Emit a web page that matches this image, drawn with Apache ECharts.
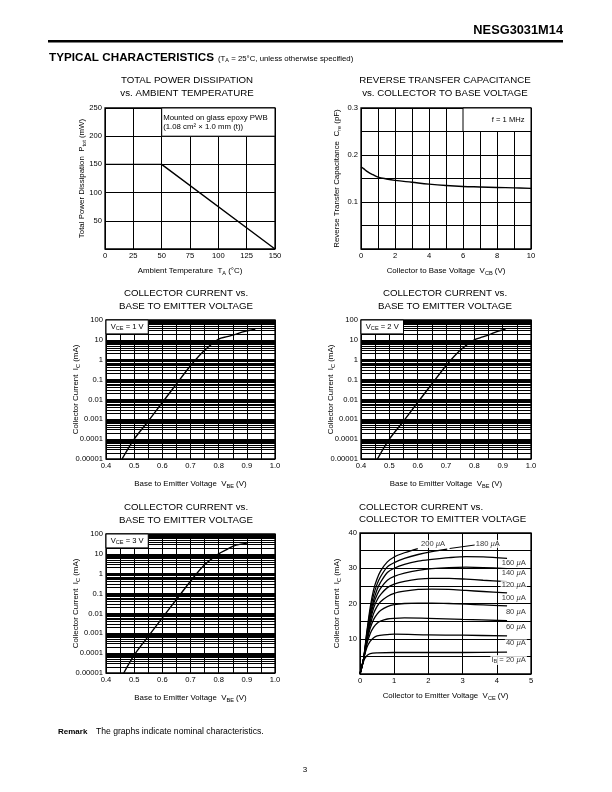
<!DOCTYPE html>
<html><head><meta charset="utf-8">
<script src="https://cdn.jsdelivr.net/npm/echarts@6/dist/echarts.min.js"></script>
<style>html,body{margin:0;padding:0;background:#fff}#c{width:612px;height:792px}</style>
</head><body><div id="c"></div><script>
const FONT = '"Liberation Sans", Arial, Helvetica, sans-serif';

// ---- Chart 1: total power dissipation vs ambient temperature
const pdTemp = [0, 50, 150];
const pdPower = [150, 150, 0];

// ---- Chart 2: reverse transfer capacitance vs VCB
const creVcb = [0, 0.15, 0.4, 0.7, 1, 1.5, 2, 3, 4, 5, 6, 7, 8, 9, 10];
const creVal = [0.175, 0.171, 0.164, 0.158, 0.153, 0.149, 0.146, 0.142, 0.138, 0.135, 0.133, 0.132, 0.131, 0.130, 0.129];

// ---- Charts 3-5: IC vs VBE
const vbe1 = [0.457, 0.5, 0.55, 0.6, 0.65, 0.7, 0.75, 0.8, 0.83, 0.86, 0.89, 0.93];
const ic1  = [1e-5, 1e-4, 8e-4, 7e-3, 6e-2, 0.5, 3, 11, 14.5, 19, 26, 34];
const vbe2 = [0.458, 0.5, 0.55, 0.6, 0.65, 0.7, 0.75, 0.8, 0.83, 0.86, 0.88, 0.91];
const ic2  = [1e-5, 1e-4, 8e-4, 7e-3, 6e-2, 0.5, 3, 10, 14, 20, 26, 34];
const vbe3 = [0.463, 0.5, 0.55, 0.6, 0.65, 0.7, 0.75, 0.8, 0.83, 0.85, 0.875, 0.9];
const ic3  = [1e-5, 8e-5, 7e-4, 6e-3, 5e-2, 0.42, 2.8, 10, 17, 24, 30, 33];
const vceLabels = ['1', '2', '3'];
const logTickLabels = ['0.00001', '0.0001', '0.001', '0.01', '0.1', '1', '10', '100'];
const logDecades = [-5, -4, -3, -2, -1, 0, 1];
const logMinorSteps = [2, 3, 4, 5, 6, 7, 8, 9];

// ---- Chart 6: IC vs VCE, parameter IB
const ibNames = ['200', '180', '160', '140', '120', '100', '80', '60', '40', '20'];
const ib200 = [[0,0],[0.1,4],[0.2,12],[0.3,19],[0.4,24],[0.5,27],[0.6,29.2],[0.8,31.8],[1.0,33.2],[1.3,34.4],[1.69,35.6]];
const ib180 = [[0,0],[0.1,4],[0.2,11.5],[0.3,18],[0.4,22.5],[0.5,25.5],[0.6,27.6],[0.8,30.4],[1.0,31.6],[1.3,32.8],[1.7,33.9],[2.1,34.7],[2.55,35.4]];
const ib160 = [[0,0],[0.1,4],[0.2,11],[0.3,17],[0.4,21],[0.5,24],[0.6,26],[0.8,28.8],[1.0,30],[1.3,31.1],[1.7,32],[2.1,32.5],[2.6,33],[3.1,33.3],[3.6,33.2],[4.3,32.8]];
const ib140 = [[0,0],[0.1,4],[0.2,10.5],[0.3,16],[0.4,20],[0.5,22.5],[0.6,24.3],[0.8,26.6],[1.0,27.7],[1.3,28.6],[1.7,29.4],[2.1,29.9],[2.6,30.2],[3.1,30.3],[3.6,30.2],[4.3,29.9]];
const ib120 = [[0,0],[0.1,4],[0.2,10],[0.3,15],[0.4,18.8],[0.5,21],[0.6,22.5],[0.8,24.5],[1.0,25.5],[1.3,26.3],[1.7,26.9],[2.1,27.1],[2.6,27.1],[3.1,26.9],[3.6,26.6],[4.3,26.2]];
const ib100 = [[0,0],[0.1,4],[0.2,9.5],[0.3,14],[0.4,17.2],[0.5,19.2],[0.6,20.5],[0.8,22],[1.0,22.9],[1.3,23.5],[1.7,24],[2.1,24.1],[2.6,24],[3.1,23.7],[3.6,23.4],[4.3,23]];
const ib80  = [[0,0],[0.1,4],[0.2,9],[0.3,13],[0.4,15.5],[0.5,17],[0.6,18],[0.8,19.1],[1.0,19.7],[1.3,20],[1.7,20.1],[2.1,20.1],[2.6,20],[3.1,19.8],[3.6,19.6],[4.3,19.3]];
const ib60  = [[0,0],[0.1,4],[0.2,8.5],[0.3,11.5],[0.4,13.3],[0.5,14.4],[0.6,15],[0.8,15.6],[1.0,15.8],[1.3,15.9],[2.0,15.8],[3.0,15.5],[4.3,15.1]];
const ib40  = [[0,0],[0.1,4],[0.2,7.5],[0.3,9.3],[0.4,10.3],[0.5,10.8],[0.7,11.1],[1.0,11.3],[2.0,11.1],[3.0,11],[4.3,10.8]];
const ib20  = [[0,0],[0.1,3.5],[0.2,5.2],[0.3,5.8],[0.5,6],[1.0,6.1],[2.0,6.1],[3.0,6.1],[4.3,6.2]];
const ibCurves = [ib200, ib180, ib160, ib140, ib120, ib100, ib80, ib60, ib40, ib20];
const ibLabelAnchor = [[2.52,36.9],[4.12,36.9],[4.88,31.5],[4.88,28.6],[4.88,25.4],[4.88,21.5],[4.88,17.7],[4.88,13.3],[4.88,8.7],[4.88,4.0]];

// ---------- helpers ----------
const black = '#000';
const subRich = {
  s: { fontSize: 5.6, fontFamily: FONT, color: black, padding: [4, 0, 0, 0] },
  mu: { fontSize: 7.6, fontFamily: FONT, color: black, fontStyle: 'italic' }
};
function axisBase(extra) {
  return Object.assign({
    axisLine: { show: false },
    axisTick: { show: false },
    splitLine: { show: true, lineStyle: { color: black, width: 1 } },
    axisLabel: { color: black, fontSize: 7.6, fontFamily: FONT, margin: 3 },
    nameLocation: 'middle',
    nameMoveOverlap: false,
    nameTextStyle: { color: black, fontSize: 7.9, fontFamily: FONT, rich: subRich }
  }, extra);
}

const grids = [
  { left: 105, top: 108, width: 170, height: 141 },
  { left: 361, top: 108, width: 170, height: 141 },
  { left: 106, top: 320, width: 169, height: 139 },
  { left: 361, top: 320, width: 170, height: 139 },
  { left: 106, top: 534, width: 169, height: 139 },
  { left: 360, top: 533, width: 171, height: 141 }
].map(g => Object.assign({ show: true, borderColor: black, borderWidth: 1.3, backgroundColor: 'transparent' }, g));

const xAxes = [], yAxes = [], series = [];
const lab = (fmt) => ({ color: black, fontSize: 7.6, fontFamily: FONT, margin: 3, formatter: fmt });

// Chart 1
xAxes.push(axisBase({ gridIndex: 0, type: 'value', min: 0, max: 150, interval: 25,
  name: 'Ambient Temperature  T{s|A} (°C)', nameGap: 17 }));
yAxes.push(axisBase({ gridIndex: 0, type: 'value', min: 0, max: 250, interval: 50,
  name: 'Total Power Dissipation  P{s|tot} (mW)', nameGap: 18,
  axisLabel: lab(v => v === 0 ? '' : String(v)) }));
series.push({ type: 'line', xAxisIndex: 0, yAxisIndex: 0, z: 10, symbol: 'none',
  data: pdTemp.map((t, i) => [t, pdPower[i]]), lineStyle: { color: black, width: 1.4 },
  markArea: { silent: true, z: 4, itemStyle: { color: '#fff', borderColor: black, borderWidth: 1 },
    label: { show: true, position: 'insideTopLeft', distance: 0, padding: [6, 0, 0, 2], color: black, fontSize: 7.8, fontFamily: FONT, lineHeight: 9,
      formatter: 'Mounted on glass epoxy PWB\n(1.08 cm² × 1.0 mm (t))' },
    data: [[{ coord: [50, 250] }, { coord: [150, 200] }]] } });

// Chart 2
xAxes.push(axisBase({ gridIndex: 1, type: 'value', min: 0, max: 10, interval: 1,
  name: 'Collector to Base Voltage  V{s|CB} (V)', nameGap: 17,
  axisLabel: lab(v => (Math.round(v) % 2 === 0 ? String(Math.round(v)) : '')) }));
yAxes.push(axisBase({ gridIndex: 1, type: 'value', min: 0, max: 0.3, interval: 0.05,
  name: 'Reverse Transfer Capacitance  C{s|re} (pF)', nameGap: 19,
  axisLabel: lab(v => { const k = Math.round(v * 100); return (k > 0 && k % 10 === 0) ? (k / 100).toFixed(1) : ''; }) }));
series.push({ type: 'line', xAxisIndex: 1, yAxisIndex: 1, z: 10, symbol: 'none', smooth: 0.4,
  data: creVcb.map((v, i) => [v, creVal[i]]), lineStyle: { color: black, width: 1.4 },
  markArea: { silent: true, z: 4, itemStyle: { color: '#fff', borderColor: black, borderWidth: 1 },
    label: { show: true, position: 'insideRight', distance: 7, color: black, fontSize: 7.6, fontFamily: FONT, formatter: 'f = 1 MHz' },
    data: [[{ coord: [6, 0.3] }, { coord: [10, 0.25] }]] } });

// Charts 3-5 (log)
const minorVals = [];
logDecades.forEach(d => logMinorSteps.forEach(m => minorVals.push(m * Math.pow(10, d))));
const vbeSets = [[vbe1, ic1], [vbe2, ic2], [vbe3, ic3]];
vbeSets.forEach((set, j) => {
  const gi = 2 + j;
  xAxes.push(axisBase({ gridIndex: gi, type: 'value', min: 0.4, max: 1.0, interval: 0.05,
    name: 'Base to Emitter Voltage  V{s|BE} (V)', nameGap: 20,
    axisLabel: lab(v => { const k = Math.round(v * 100); return k % 10 === 0 ? (k / 100).toFixed(1) : ''; }) }));
  yAxes.push(axisBase({ gridIndex: gi, type: 'log', logBase: 10, min: 1e-5, max: 100, splitNumber: 7,
    name: 'Collector Current  I{s|C} (mA)', nameGap: 25,
    axisLabel: lab(v => logTickLabels[Math.round(Math.log10(v)) + 5] || '') }));
  series.push({ type: 'line', xAxisIndex: gi, yAxisIndex: gi, z: 10, symbol: 'none', smooth: 0.3,
    data: set[0].map((v, i) => [v, set[1][i]]), lineStyle: { color: black, width: 1.4 },
    markLine: { silent: true, z: 3, symbol: 'none', precision: 12, animation: false, label: { show: false },
      lineStyle: { color: black, width: 1, type: 'solid' },
      data: minorVals.map(y => ({ yAxis: y })) },
    markArea: { silent: true, z: 4, itemStyle: { color: '#fff', borderColor: black, borderWidth: 1 },
      label: { show: true, position: 'inside', color: black, fontSize: 7.6, fontFamily: FONT, rich: subRich,
        formatter: 'V{s|CE} = ' + vceLabels[j] + ' V' },
      data: [[{ coord: [0.4, 100] }, { coord: [0.55, 20] }]] } });
});

// Chart 6
xAxes.push(axisBase({ gridIndex: 5, type: 'value', min: 0, max: 5, interval: 1,
  name: 'Collector to Emitter Voltage  V{s|CE} (V)', nameGap: 17 }));
yAxes.push(axisBase({ gridIndex: 5, type: 'value', min: 0, max: 40, interval: 5,
  name: 'Collector Current  I{s|C} (mA)', nameGap: 18,
  axisLabel: lab(v => (v > 0 && v % 10 === 0) ? String(v) : '') }));
ibCurves.forEach(c => series.push({ type: 'line', xAxisIndex: 5, yAxisIndex: 5, z: 10, symbol: 'none', smooth: 0.3,
  data: c, lineStyle: { color: black, width: 1.3 } }));
series.push({ type: 'scatter', xAxisIndex: 5, yAxisIndex: 5, z: 15, symbolSize: 0, silent: true,
  data: ibLabelAnchor.map((p, i) => ({ value: p, name: ibNames[i] })),
  label: { show: true, position: 'left', distance: 0, color: black, fontSize: 7.6, fontFamily: FONT,
    backgroundColor: '#fff', padding: [0, 1], rich: { s: subRich.s, mu: subRich.mu },
    formatter: p => (p.name === '20' ? 'I{s|B} = 20 ' : p.name + ' ') + '{mu|µ}A' },
  markLine: { silent: true, z: 15, symbol: ['none', 'arrow'], symbolSize: [0, 6], label: { show: false },
    lineStyle: { color: black, width: 1, type: 'solid' },
    data: [[{ coord: [3.36, 36.6] }, { coord: [2.62, 35.6] }]] } });

// ---------- page texts ----------
function txt(x, y, text, font, align, rich) {
  return { type: 'text', x: x, y: y, silent: true, style: { text: text, font: font, fill: black, textAlign: align || 'left', textVerticalAlign: 'middle', rich: rich } };
}
const tFont = '9.7px ' + FONT;
const graphic = [
  txt(563, 30, 'NESG3031M14', 'bold 12.8px ' + FONT, 'right'),
  { type: 'rect', silent: true, shape: { x: 48, y: 40, width: 515, height: 2.5 }, style: { fill: black } },
  txt(49, 58, 'TYPICAL CHARACTERISTICS', 'bold 11.7px ' + FONT),
  txt(218, 59, '(T{s|A} = 25°C, unless otherwise specified)', '7.8px ' + FONT, 'left', { s: { fontSize: 5.5, fontFamily: FONT, padding: [3, 0, 0, 0] } }),
  txt(187, 80, 'TOTAL POWER DISSIPATION', tFont, 'center'),
  txt(187, 93, 'vs. AMBIENT TEMPERATURE', tFont, 'center'),
  txt(445, 80, 'REVERSE TRANSFER CAPACITANCE', tFont, 'center'),
  txt(445, 93, 'vs. COLLECTOR TO BASE VOLTAGE', tFont, 'center'),
  txt(186, 293, 'COLLECTOR CURRENT vs.', tFont, 'center'),
  txt(186, 306, 'BASE TO EMITTER VOLTAGE', tFont, 'center'),
  txt(445, 293, 'COLLECTOR CURRENT vs.', tFont, 'center'),
  txt(445, 306, 'BASE TO EMITTER VOLTAGE', tFont, 'center'),
  txt(186, 507, 'COLLECTOR CURRENT vs.', tFont, 'center'),
  txt(186, 520, 'BASE TO EMITTER VOLTAGE', tFont, 'center'),
  txt(359, 507, 'COLLECTOR CURRENT vs.', tFont, 'left'),
  txt(359, 519, 'COLLECTOR TO EMITTER VOLTAGE', tFont, 'left'),
  txt(58, 732, 'Remark', 'bold 8px ' + FONT),
  txt(96, 732, 'The graphs indicate nominal characteristics.', '8.6px ' + FONT),
  txt(305, 770, '3', '8px ' + FONT, 'center')
];

const chart = echarts.init(document.getElementById('c'), null, { renderer: 'canvas' });
chart.setOption({
  animation: false,
  backgroundColor: '#fff',
  grid: grids,
  xAxis: xAxes,
  yAxis: yAxes,
  series: series,
  graphic: graphic
});
</script></body></html>
